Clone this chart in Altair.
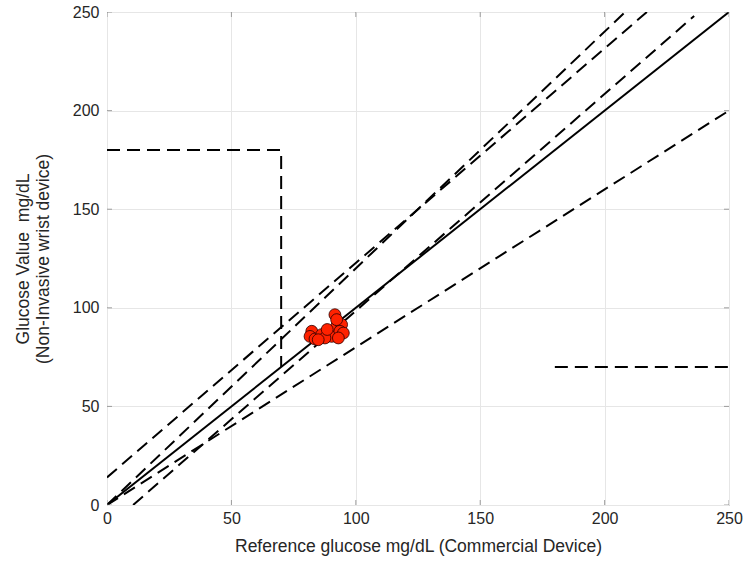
import altair as alt
import pandas as pd

# ---- data -------------------------------------------------------------
ref_glucose = [91.6, 82.3, 81.6, 83.6, 86.3, 89.6, 90.3, 92.3, 94.3, 93.6,
               95.0, 93.0, 87.6, 92.3, 84.9, 88.5]
dev_glucose = [96.5, 88.1, 85.5, 84.2, 86.4, 87.2, 85.5, 90.6, 91.5, 88.1,
               87.2, 84.7, 84.7, 94.0, 83.8, 89.0]

# zone boundary segments (polyline id, x, y)
seg_id = ["ident", "ident",
          "up120", "up120",
          "upoff", "upoff",
          "lo080", "lo080",
          "looff", "looff",
          "zoneD", "zoneD", "zoneD",
          "zoneE", "zoneE"]
seg_x = [0, 250,
         0, 208.3,
         0, 217.0,
         0, 250,
         10.5, 236.0,
         0, 70, 70,
         180, 250]
seg_y = [0, 250,
         0, 250,
         14.0, 250,
         0, 200,
         0, 248,
         180, 180, 70,
         70, 70]
seg_solid = ["ident"]

tick_vals = [0, 50, 100, 150, 200, 250]

# ---- frames -----------------------------------------------------------
pts = pd.DataFrame({"ref": ref_glucose, "dev": dev_glucose})
segs = pd.DataFrame({"id": seg_id, "x": seg_x, "y": seg_y})
segs["order"] = range(len(segs))
ticks = pd.DataFrame({"v": tick_vals})

FONT = "Liberation Sans"
xs = alt.Scale(domain=[0, 250], nice=False, zero=False)
ys = alt.Scale(domain=[0, 250], nice=False, zero=False)

x_axis = alt.Axis(values=tick_vals, title="Reference glucose mg/dL (Commercial Device)",
                  grid=True, ticks=False, domain=False, labelPadding=5,
                  labelFlush=False, titlePadding=11)
y_axis = alt.Axis(values=tick_vals,
                  title=["Glucose Value\u00a0 mg/dL", "(Non-Invasive wrist device)"],
                  grid=True, ticks=False, domain=False, labelPadding=8,
                  labelFlush=False, titlePadding=20, titleLineHeight=20)

base_x = alt.X("x:Q", scale=xs, axis=x_axis)
base_y = alt.Y("y:Q", scale=ys, axis=y_axis)

solid = alt.Chart(segs[segs["id"].isin(seg_solid)]).mark_line(
    color="black", strokeWidth=2, clip=True
).encode(x=base_x, y=base_y, detail="id:N", order="order:Q")

dashed = alt.Chart(segs[~segs["id"].isin(seg_solid)]).mark_line(
    color="black", strokeWidth=2, strokeDash=[13, 7], clip=True
).encode(x=alt.X("x:Q", scale=xs), y=alt.Y("y:Q", scale=ys),
         detail="id:N", order="order:Q")

points = alt.Chart(pts).mark_point(
    shape="circle", filled=True, size=140, fill="#ff2200", stroke="#2a0000",
    strokeWidth=0.8, opacity=1, fillOpacity=1
).encode(x=alt.X("ref:Q", scale=xs), y=alt.Y("dev:Q", scale=ys))

tick_style = dict(color="#7a7a7a", thickness=1, size=10, clip=True)
xt_bottom = alt.Chart(ticks).mark_tick(orient="vertical", **tick_style).encode(
    x=alt.X("v:Q", scale=xs), y=alt.value(493))
xt_top = alt.Chart(ticks).mark_tick(orient="vertical", **tick_style).encode(
    x=alt.X("v:Q", scale=xs), y=alt.value(0))
yt_left = alt.Chart(ticks).mark_tick(orient="horizontal", **tick_style).encode(
    y=alt.Y("v:Q", scale=ys), x=alt.value(0))
yt_right = alt.Chart(ticks).mark_tick(orient="horizontal", **tick_style).encode(
    y=alt.Y("v:Q", scale=ys), x=alt.value(622))

chart = alt.layer(
    solid, dashed, points, xt_bottom, xt_top, yt_left, yt_right
).properties(
    width=622, height=493,
    autosize=alt.AutoSizeParams(type="none"),
    padding={"left": 107, "top": 12, "right": 17, "bottom": 62},
    background="white",
).configure_view(
    stroke="#7a7a7a", strokeWidth=1
).configure_axis(
    labelFont=FONT, titleFont=FONT, labelFontSize=16, titleFontSize=17.5,
    labelColor="#262626", titleColor="#262626", titleFontWeight="normal",
    gridColor="#e6e6e6", gridWidth=1
)

chart.save("out.html", embed_options={"renderer": "svg", "actions": False})
